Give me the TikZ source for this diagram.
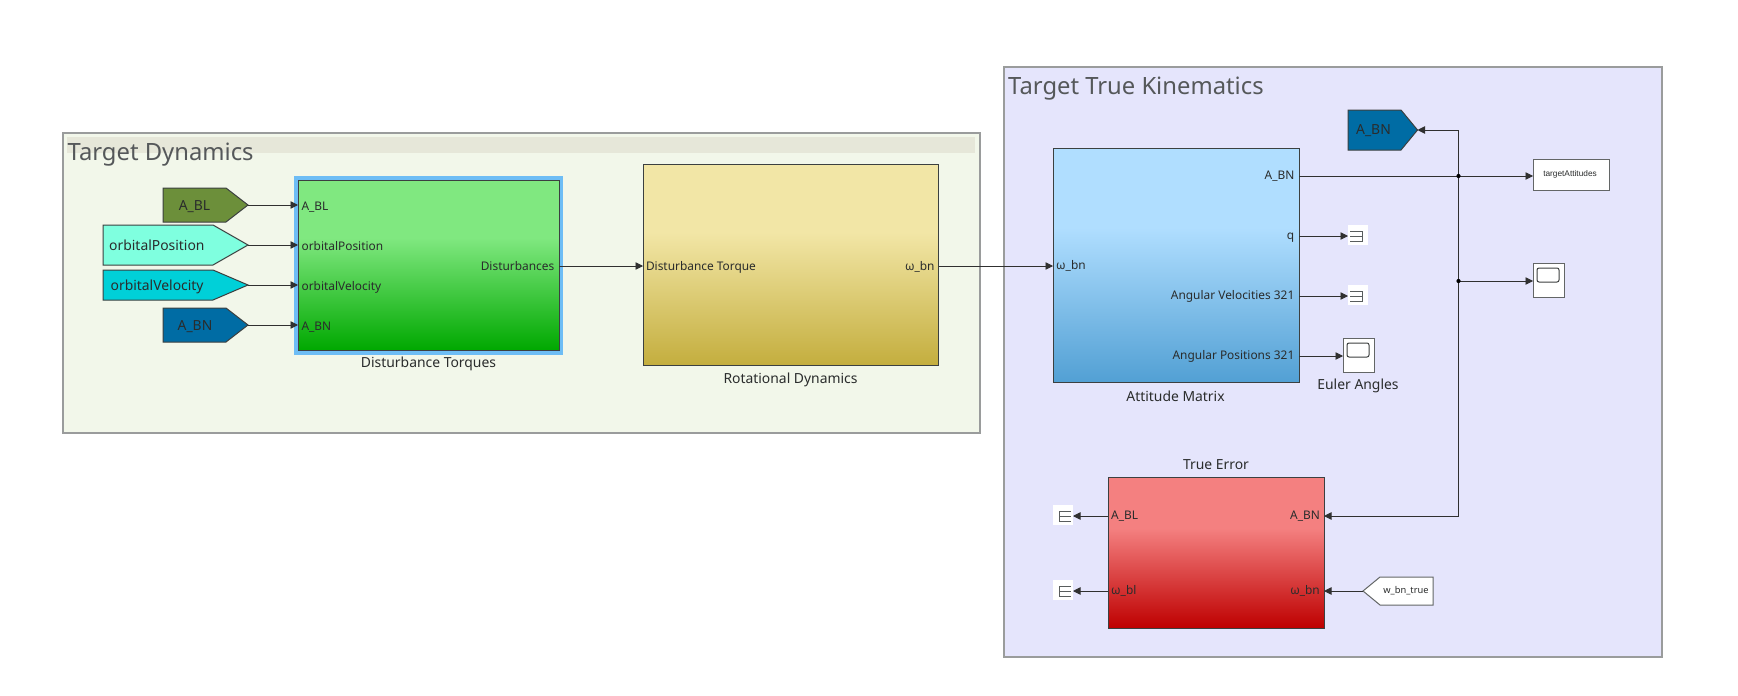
\documentclass[tikz,border=0pt]{standalone}
\usepackage{fontspec}
\setmainfont{Noto Sans}
\newfontfamily\tinyfont{Liberation Sans}
\usetikzlibrary{arrows.meta}
\definecolor{wirec}{HTML}{303030}
\definecolor{edgec}{HTML}{3C4040}
\definecolor{areaedge}{HTML}{9A9C9C}
\definecolor{areaA}{HTML}{F2F7EA}
\definecolor{areaB}{HTML}{E5E5FC}
\definecolor{titlebar}{HTML}{E6E7D9}
\definecolor{titletxt}{HTML}{55585A}
\definecolor{labtxt}{HTML}{2A2C2C}
\definecolor{highlight}{HTML}{6EBDF5}
\definecolor{gT}{HTML}{80E880}\definecolor{gB}{HTML}{00A800}
\definecolor{yT}{HTML}{F2E6A6}\definecolor{yB}{HTML}{C4AE3E}
\definecolor{bT}{HTML}{B0DEFF}\definecolor{bB}{HTML}{52A0D4}
\definecolor{rT}{HTML}{F48080}\definecolor{rB}{HTML}{BE0000}
\definecolor{cBL}{HTML}{6C8F3A}
\definecolor{cPos}{HTML}{7FFFDF}
\definecolor{cVel}{HTML}{00D0D8}
\definecolor{cBN}{HTML}{006CA4}
\pgfdeclareverticalshading{shgreen}{100bp}{color(0bp)=(gB);color(25bp)=(gB);color(58bp)=(gT);color(100bp)=(gT)}
\pgfdeclareverticalshading{shyellow}{100bp}{color(0bp)=(yB);color(25bp)=(yB);color(58bp)=(yT);color(100bp)=(yT)}
\pgfdeclareverticalshading{shblue}{100bp}{color(0bp)=(bB);color(25bp)=(bB);color(58bp)=(bT);color(100bp)=(bT)}
\pgfdeclareverticalshading{shred}{100bp}{color(0bp)=(rB);color(25bp)=(rB);color(58bp)=(rT);color(100bp)=(rT)}
\tikzset{
  box/.style={draw=edgec,line width=1pt,inner sep=0pt,outer sep=0pt,anchor=north west},
  area/.style={draw=areaedge,line width=1.5pt,inner sep=0pt,outer sep=0pt,anchor=north west},
  wire/.style={draw=wirec,line width=0.9pt,-{Triangle[length=7.5pt,width=7.5pt]}},
  port/.style={text=labtxt,font=\fontsize{11.9}{14}\selectfont,inner sep=0pt,text height=9pt,text depth=2.5pt},
  captxt/.style={text=labtxt,font=\fontsize{13.9}{16}\selectfont,inner sep=0pt,text height=10.5pt,text depth=3pt},
  titletext/.style={text=titletxt,font=\fontsize{23.8}{28}\selectfont,inner sep=0pt,anchor=west},
  gototxt/.style={text=labtxt,font=\fontsize{13.9}{16}\selectfont,inner sep=0pt,text height=10.5pt,text depth=3pt},
  jdot/.style={circle,fill=black,inner sep=0pt,minimum size=4.2pt},
  whitebox/.style={fill=white,draw=edgec!80,line width=1pt,inner sep=0pt,outer sep=0pt,anchor=north west},
  glyph/.style={draw=edgec!85,line width=0.9pt},
}
\begin{document}
\begin{tikzpicture}[x=1pt,y=-1pt]
\useasboundingbox (0,0) rectangle (1738,696);
\fill[white] (0,0) rectangle (1738,696);
% areas
\node[area,fill=areaA,minimum width=917pt,minimum height=300pt] (areaDyn) at (63,133) {};
\fill[titlebar] (67,137) rectangle (975,153);
\node[titletext] (titleDyn) at (67.5,155) {Target Dynamics};
\node[area,fill=areaB,minimum width=658pt,minimum height=590pt] (areaKin) at (1004,67) {};
\node[titletext] (titleKin) at (1008,89) {Target True Kinematics};
% gotos
\path[draw=edgec,line width=1pt,fill=cBL] (163,188)--(226,188)--(248,205)--(226,222)--(163,222)--cycle;
\coordinate (gBL) at (248,205);
\node[gototxt] (tBL) at (194.5,206.5) {A\_BL};
\path[draw=edgec,line width=1pt,fill=cPos] (103,225)--(213,225)--(248,245)--(213,265)--(103,265)--cycle;
\coordinate (gPos) at (248,245);
\node[gototxt,anchor=west] (tPos) at (109,246.5) {orbitalPosition};
\path[draw=edgec,line width=1pt,fill=cVel] (103,270)--(213,270)--(248,285)--(213,300)--(103,300)--cycle;
\coordinate (gVel) at (248,285);
\node[gototxt,anchor=west] (tVel) at (110.4,286.5) {orbitalVelocity};
\path[draw=edgec,line width=1pt,fill=cBN] (163,308)--(226,308)--(248,325)--(226,342)--(163,342)--cycle;
\coordinate (gBN) at (248,325);
\node[gototxt] (tBN) at (195,326.5) {A\_BN};
% disturbance block
\fill[highlight] (294,176) rectangle (563,355);
\node[box,shade,shading=shgreen,minimum width=261pt,minimum height=170pt] (dist) at (298,180) {};
\coordinate (dA) at (298,205);
\coordinate (dB) at (298,245);
\coordinate (dC) at (298,285);
\coordinate (dD) at (298,325);
\coordinate (dOut) at (559,266);
\node[port,anchor=west] (lA) at (301.4,207) {A\_BL};
\node[port,anchor=west] (lB) at (301.4,247) {orbitalPosition};
\node[port,anchor=west] (lC) at (301.4,287) {orbitalVelocity};
\node[port,anchor=west] (lD) at (301.4,327) {A\_BN};
\node[port,anchor=east] (lOut) at (554.5,267.5) {Disturbances};
\node[captxt] (capDist) at (428.5,364) {Disturbance Torques};
% rotational
\node[box,shade,shading=shyellow,minimum width=295.5pt,minimum height=201pt] (rot) at (643,164) {};
\coordinate (rIn) at (643,266);
\coordinate (rOut) at (938.5,266);
\node[port,anchor=west] (lrIn) at (645.8,267.5) {Disturbance Torque};
\node[port,anchor=east] (lrOut) at (934.7,267.5) {ω\_bn};
\node[captxt] (capRot) at (790.5,380) {Rotational Dynamics};
% attitude
\node[box,shade,shading=shblue,minimum width=246pt,minimum height=234pt] (att) at (1053,148) {};
\coordinate (aIn) at (1053,266);
\coordinate (aBN) at (1299,176);
\coordinate (aQ) at (1299,236);
\coordinate (aV) at (1299,296);
\coordinate (aP) at (1299,356);
\node[port,anchor=west] (laIn) at (1056,266.5) {ω\_bn};
\node[port,anchor=east] (laBN) at (1294.5,176.5) {A\_BN};
\node[port,anchor=east] (laQ) at (1294.5,236.5) {q};
\node[port,anchor=east] (laV) at (1294.5,296.5) {Angular Velocities 321};
\node[port,anchor=east] (laP) at (1294.5,356.5) {Angular Positions 321};
\node[captxt] (capAtt) at (1175.5,397.5) {Attitude Matrix};
% goto top right
\path[draw=edgec,line width=1pt,fill=cBN] (1348,110)--(1401,110)--(1417.5,130)--(1401,150)--(1348,150)--cycle;
\coordinate (gBN2) at (1417.5,130);
\node[gototxt] (tBN2) at (1373.5,131) {A\_BN};
% targetAttitudes
\node[whitebox,minimum width=76pt,minimum height=31pt] (tw) at (1533,159) {};
\node[text=labtxt,inner sep=0pt,font=\tinyfont\fontsize{8.3}{10}\selectfont] (twt) at (1570,174) {targetAttitudes};
\coordinate (twIn) at (1533,176);
% scope 1
\node[whitebox,minimum width=31pt,minimum height=34pt] (sc1) at (1533,263) {};
\draw[edgec,line width=1pt,fill=white,rounded corners=2pt] (1537,268) rectangle (1559,282);
\coordinate (sc1In) at (1533,281);
% scope euler
\node[whitebox,minimum width=31pt,minimum height=34pt] (sc2) at (1343,338) {};
\draw[edgec,line width=1pt,fill=white,rounded corners=2pt] (1347,343) rectangle (1369,357);
\coordinate (sc2In) at (1343,356);
\node[captxt] (capEuler) at (1358,386) {Euler Angles};
% terminators right
\fill[white] (1348,225) rectangle (1368,245);
\draw[glyph] (1350,231)--(1362,231)--(1362,241)--(1350,241) (1350,236)--(1362,236);
\coordinate (t1) at (1348,236);
\fill[white] (1348,285) rectangle (1368,305);
\draw[glyph] (1350,291)--(1362,291)--(1362,301)--(1350,301) (1350,296)--(1362,296);
\coordinate (t2) at (1348,296);
% true error
\node[box,shade,shading=shred,minimum width=216pt,minimum height=151pt] (err) at (1108,477) {};
\coordinate (eBL) at (1108,516);
\coordinate (eBI) at (1108,591);
\coordinate (eBN) at (1324,516);
\coordinate (eW) at (1324,591);
\node[port,anchor=west] (leBL) at (1111,516) {A\_BL};
\node[port,anchor=west] (leBI) at (1111,591) {ω\_bl};
\node[port,anchor=east] (leBN) at (1320,516) {A\_BN};
\node[port,anchor=east] (leW) at (1320,591) {ω\_bn};
\node[captxt] (capErr) at (1216,466) {True Error};
% terminators left
\fill[white] (1053,505) rectangle (1073,525);
\draw[glyph] (1071,511)--(1059,511)--(1059,521)--(1071,521) (1059,516)--(1071,516);
\coordinate (t3) at (1073,516);
\fill[white] (1053,580) rectangle (1073,600);
\draw[glyph] (1071,586)--(1059,586)--(1059,596)--(1071,596) (1059,591)--(1071,591);
\coordinate (t4) at (1073,591);
% from block
\path[draw=edgec!80,line width=1pt,fill=white] (1363,591)--(1380,577)--(1433,577)--(1433,605)--(1380,605)--cycle;
\coordinate (fW) at (1363,591);
\node[text=labtxt,inner sep=0pt,font=\fontsize{9.3}{11}\selectfont] (tfW) at (1406,590.5) {w\_bn\_true};
% junctions
\coordinate (jTop) at (1458.5,176);
\coordinate (jMid) at (1458.5,281);
% wires
\draw[wire] (gBL)--(dA);
\draw[wire] (gPos)--(dB);
\draw[wire] (gVel)--(dC);
\draw[wire] (gBN)--(dD);
\draw[wire] (dOut)--(rIn);
\draw[wire] (rOut)--(aIn);
\draw[wire] (aBN)--(twIn);
\draw[wire] (aQ)--(t1);
\draw[wire] (aV)--(t2);
\draw[wire] (aP)--(sc2In);
\draw[wire] (jMid)--(sc1In);
\draw[wire] (jTop)|-(gBN2);
\draw[wire] (jTop)|-(eBN);
\draw[wire] (eBL)--(t3);
\draw[wire] (eBI)--(t4);
\draw[wire] (fW)--(eW);
\node[jdot] (dotTop) at (jTop) {};
\node[jdot] (dotMid) at (jMid) {};
\end{tikzpicture}
\end{document}
